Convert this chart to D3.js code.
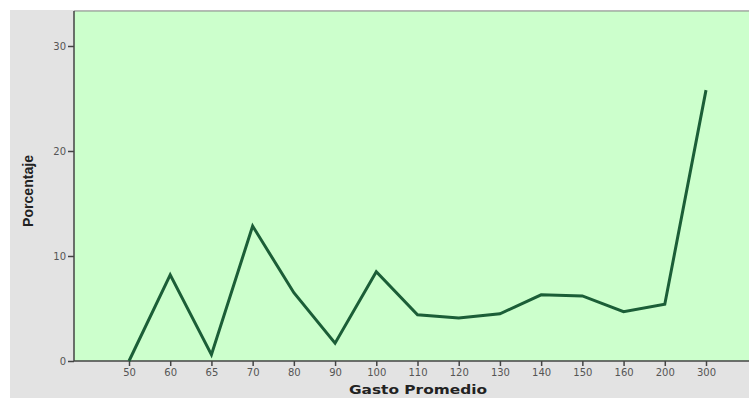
<!DOCTYPE html>
<html><head><meta charset="utf-8">
<script src="https://cdn.jsdelivr.net/npm/d3@7"></script>
<style>body{margin:0;background:#fff}svg{display:block}</style>
</head><body>
<script>
const categories = ["50","60","65","70","80","90","100","110","120","130","140","150","160","200","300"];
const values = [0, 8.2, 0.6, 12.85, 6.5, 1.7, 8.5, 4.4, 4.1, 4.5, 6.3, 6.2, 4.7, 5.4, 25.8];
const yTicks = [0, 10, 20, 30];

(function () {
const W = 749, H = 400;
const svg = d3.select("body").append("svg").attr("width", W).attr("height", H);
const pL = 74, pR = 749, pT = 11, pB = 361;

svg.append("rect").attr("x", 10).attr("y", 10).attr("width", W - 10).attr("height", 388).attr("fill", "#e3e3e3");
svg.append("rect").attr("x", pL).attr("y", pT).attr("width", pR - pL).attr("height", pB - pT).attr("fill", "#ccffcc");
svg.append("line").attr("x1", pL).attr("x2", pR).attr("y1", pT).attr("y2", pT).attr("stroke", "#8a8a8a").attr("stroke-width", 1);

const x = d3.scalePoint().domain(categories).range([129, 706]);
const y = d3.scaleLinear().domain([0, (pB - pT) / 10.5]).range([pB, pT]);

const tickFont = "DejaVu Sans, Verdana, sans-serif";
const gx = svg.append("g").attr("transform", `translate(0,${pB})`)
  .call(d3.axisBottom(x).tickSize(5).tickPadding(3));
gx.select(".domain").remove();
gx.append("line").attr("x1", pL).attr("x2", pR).attr("stroke", "#444").attr("stroke-width", 1.5);
gx.selectAll(".tick line").attr("stroke", "#444").attr("stroke-width", 1.5);
gx.selectAll(".tick text").attr("fill", "#555").attr("font-size", 10).attr("font-family", tickFont);

const gy = svg.append("g").attr("transform", `translate(${pL},0)`)
  .call(d3.axisLeft(y).tickValues(yTicks).tickSize(6).tickPadding(2));
gy.select(".domain").remove();
gy.append("line").attr("y1", pT).attr("y2", pB).attr("stroke", "#444").attr("stroke-width", 1.5);
gy.selectAll(".tick line").attr("stroke", "#444").attr("stroke-width", 1.5);
gy.selectAll(".tick text").attr("fill", "#555").attr("font-size", 10).attr("font-family", tickFont);

const line = d3.line().x((d, i) => x(categories[i])).y(d => y(d));
svg.append("path").datum(values).attr("d", line).attr("fill", "none")
  .attr("stroke", "#1b5e37").attr("stroke-width", 3).attr("stroke-linejoin", "miter");

svg.append("text").attr("x", 418).attr("y", 394).attr("text-anchor", "middle")
  .attr("font-family", tickFont).attr("font-weight", "bold").attr("font-size", 13)
  .attr("textLength", 138).attr("lengthAdjust", "spacingAndGlyphs")
  .attr("fill", "#222").text("Gasto Promedio");
svg.append("text").attr("transform", "translate(33,191) rotate(-90)").attr("text-anchor", "middle")
  .attr("font-family", "Liberation Sans Narrow, Arial Narrow, sans-serif").attr("font-weight", "bold").attr("font-size", 14)
  .attr("textLength", 72).attr("lengthAdjust", "spacingAndGlyphs")
  .attr("fill", "#222").text("Porcentaje");
})();
</script>
</body></html>
